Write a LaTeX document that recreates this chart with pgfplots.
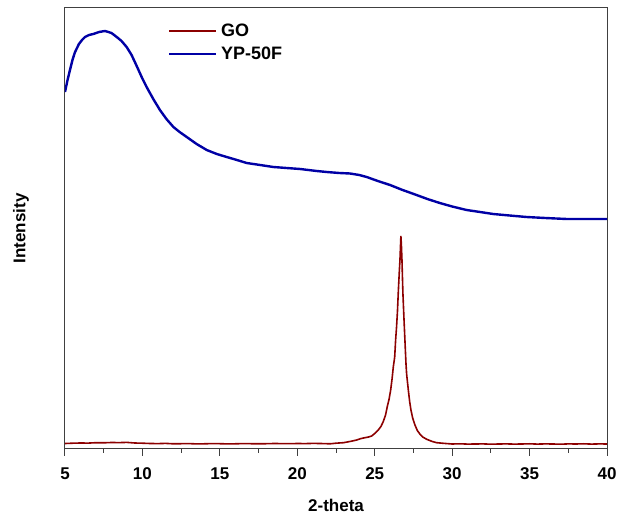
\documentclass[border=0pt]{standalone}
\usepackage{fontspec}
\setmainfont{Liberation Sans}
\usepackage{pgfplots}
\pgfplotsset{compat=1.18}
\definecolor{goRed}{RGB}{140,0,0}
\definecolor{ypBlue}{RGB}{0,0,165}
\begin{document}
\begin{tikzpicture}
\path[use as bounding box] (-65pt,-72pt) rectangle (553pt,449pt);
\begin{axis}[
    at={(0pt,0pt)}, anchor=south west,
    scale only axis,
    width=542pt, height=441pt,
    xmin=5, xmax=40, ymin=0, ymax=441,
    xtick={5,10,...,40},
    minor x tick num=1,
    ytick=\empty,
    xtick pos=bottom,
    tick align=outside,
    major tick length=7pt,
    minor tick length=4pt,
    axis line style={line width=1pt, black!75},
    every tick/.style={line width=1pt, black!75},
    tick label style={font=\fontsize{17}{20}\selectfont\bfseries},
    /pgf/number format/assume math mode=true,
    xticklabel style={yshift=-8pt},
    xlabel={2-theta},
    ylabel={Intensity},
    label style={font=\fontsize{17}{20}\selectfont\bfseries},
    xlabel style={at={(axis description cs:0.5,-0.129)}, anchor=center},
    ylabel style={at={(axis description cs:-0.081,0.5)}, anchor=center, rotate=0},
    legend style={draw=none, fill=none, at={(axis description cs:0.19,0.968)}, anchor=north west,
      font=\fontsize{18}{21}\selectfont\bfseries, row sep=5pt, column sep=2pt, inner sep=0pt},
    legend cell align=left,
    legend image code/.code={\draw[#1, line width=2pt] (0pt,0pt) -- (47pt,0pt);},
  ]
  % GO
  \addplot[goRed, line width=1.6pt] coordinates {
    (5.0,5.5) (5.5,5.8) (6.0,6.0) (6.5,5.9) (7.0,6.3) (7.5,6.2) (8.0,6.5) (8.5,6.4)
    (9.0,6.6) (9.5,6.0) (10.0,5.8) (10.5,5.5) (11.0,5.4) (11.5,5.6) (12.0,5.2)
    (12.5,5.3) (13.0,5.4) (13.5,5.1) (14.0,5.2) (14.5,5.4) (15.0,5.3) (15.5,5.1)
    (16.0,5.2) (16.5,5.4) (17.0,5.3) (17.5,5.2) (18.0,5.3) (18.5,5.5) (19.0,5.4)
    (19.5,5.3) (20.0,5.5) (20.5,5.4) (21.0,5.6) (21.5,5.5) (22.12,5.2) (22.5,5.8)
    (22.98,6.3) (23.4,7.5) (23.84,9.0) (24.1,10.4) (24.37,11.3) (24.6,12.0) (24.8,13.0)
    (25.0,15.5) (25.23,19.0) (25.4,22.5) (25.55,27.3) (25.7,34.0) (25.81,42.3)
    (25.93,50.0) (26.03,59.0) (26.12,70.0) (26.2,82.0) (26.29,92.0) (26.35,109.0)
    (26.41,122.0) (26.47,138.0) (26.52,156.0) (26.58,175.0) (26.63,189.0)
    (26.67,205.0) (26.69,213.0) (26.72,205.0) (26.76,189.0) (26.79,172.0)
    (26.82,156.0) (26.89,130.0) (26.95,109.0) (27.02,85.0) (27.06,75.0) (27.17,59.0)
    (27.26,47.0) (27.34,39.0) (27.45,31.0) (27.6,24.0) (27.75,18.5) (27.93,14.7)
    (28.1,12.0) (28.36,9.7) (28.7,7.6) (29.0,6.3) (29.5,5.6) (30.0,5.0) (30.5,5.2)
    (31.0,4.9) (31.5,5.0) (32.0,5.1) (32.5,4.8) (33.0,5.0) (33.5,5.1) (34.0,4.9)
    (34.5,5.0) (35.0,5.2) (35.5,4.9) (36.0,5.1) (36.5,5.0) (37.0,4.8) (37.5,5.1)
    (38.0,5.0) (38.5,5.2) (39.0,4.9) (39.5,5.1) (40.0,5.0)
  };
  \addlegendentry{GO}
  % YP-50F
  \addplot[ypBlue, line width=2.4pt] coordinates {
    (5.0,357) (5.15,368) (5.32,379) (5.5,390) (5.65,397) (5.9,405) (6.1,409)
    (6.29,412) (6.55,414) (6.83,415) (7.2,417) (7.58,418) (7.8,417) (8.0,416)
    (8.34,412) (8.65,408) (8.98,402) (9.3,394) (9.63,383) (9.95,372) (10.27,362)
    (10.7,350) (11.13,339) (11.55,330) (12.0,322) (12.4,317) (12.86,312)
    (13.5,305) (14.15,299) (14.8,295) (15.44,292) (16.1,289) (16.73,286)
    (17.6,284) (18.45,282) (19.3,281) (20.18,280) (21.25,278) (21.9,277)
    (22.7,276) (23.4,275.5) (24.0,274) (24.48,272) (25.2,268) (25.99,264)
    (26.8,259) (27.7,254) (28.4,250) (29.2,246) (30.0,242.5) (30.93,239)
    (31.8,237) (32.65,235) (33.7,233.5) (34.8,232) (36.0,231) (37.4,230)
    (38.6,230) (40.0,230)
  };
  \addlegendentry{YP-50F}
\end{axis}
\end{tikzpicture}
\end{document}
